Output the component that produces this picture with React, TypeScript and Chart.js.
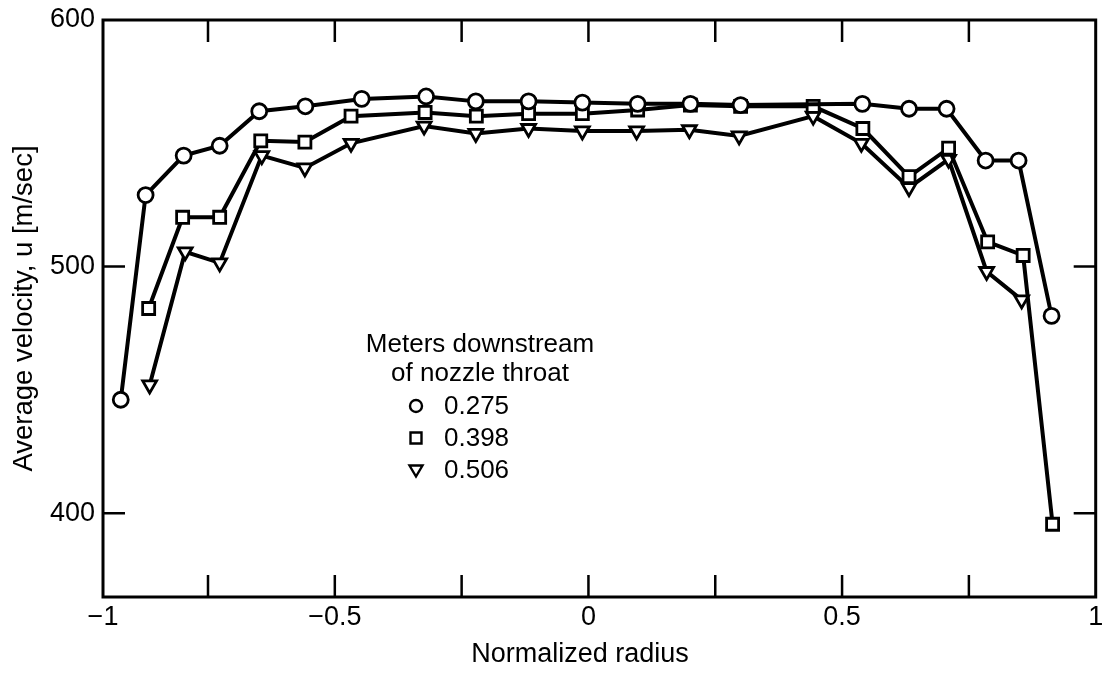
import React, { useEffect, useRef } from 'react';
import { Chart, registerables } from 'chart.js';

Chart.register(...registerables);

// Normalized radius stations and average velocity (m/sec) for each downstream distance
const radius275 = [-0.922, -0.873, -0.798, -0.727, -0.649, -0.558, -0.447, -0.32, -0.222, -0.118, -0.012, 0.097, 0.201, 0.3, 0.54, 0.632, 0.706, 0.783, 0.848, 0.913];
const velocity275 = [446, 529, 545, 549, 563, 565, 568, 569, 567, 567, 566.5, 566, 566, 565.5, 566, 564, 564, 543, 543, 480];

const radius398 = [-0.867, -0.8, -0.727, -0.646, -0.559, -0.468, -0.322, -0.221, -0.118, -0.012, 0.097, 0.201, 0.3, 0.443, 0.541, 0.632, 0.71, 0.787, 0.857, 0.915];
const velocity398 = [483, 520, 520, 551, 550.5, 561, 562.5, 561, 562, 562, 563.5, 565.5, 565, 565, 556, 536.5, 548, 510, 504.5, 395.5];

const radius506 = [-0.865, -0.795, -0.727, -0.644, -0.559, -0.468, -0.324, -0.222, -0.118, -0.012, 0.095, 0.199, 0.297, 0.443, 0.538, 0.632, 0.71, 0.785, 0.854];
const velocity506 = [452, 506, 501.5, 545, 540, 550, 557, 554, 556, 555, 555, 555.5, 553, 561, 550, 532, 543.5, 498, 486.5];

const seriesLabels = ['0.275', '0.398', '0.506'];
const legendTitle = ['Meters downstream', 'of nozzle throat'];
const xTitle = 'Normalized radius';
const yTitle = 'Average velocity, u [m/sec]';

// The left frame of the original plot sits slightly inside r = -1 but carries the "-1" label
const xAxisMin = -0.957;
const xAxisMax = 1;
const xTickValues = [-0.75, -0.5, -0.25, 0, 0.25, 0.5, 0.75, 1];
const xLabeledValues = [-0.5, 0, 0.5, 1];
const xLeftEdgeLabel = '\u22121';
const yTickValues = [400, 500, 600];

const FONT = "'Liberation Sans', Arial, Helvetica, sans-serif";
const TICK_LEN = 22;

const toPoints = (xs: number[], ys: number[]) => xs.map((x, i) => ({ x, y: ys[i] }));

const formatRadius = (v: number) => {
  if (v === 0) return '0';
  return (v < 0 ? '\u2212' : '') + String(Math.abs(v));
};

// Box frame with inward tick marks on all four sides
const framePlugin = {
  id: 'frameTicks',
  beforeDatasetsDraw(chart: any) {
    const { ctx, chartArea, scales } = chart;
    const { left, top, right, bottom } = chartArea;
    const xs = scales.x;
    const ys = scales.y;
    ctx.save();
    ctx.strokeStyle = '#000';
    ctx.lineWidth = 3;
    ctx.strokeRect(left, top, right - left, bottom - top);
    ctx.lineWidth = 2.5;
    ctx.beginPath();
    xs.ticks.forEach((t: any) => {
      if (t.value <= xs.min || t.value >= xs.max) return;
      const px = xs.getPixelForValue(t.value);
      ctx.moveTo(px, bottom);
      ctx.lineTo(px, bottom - TICK_LEN);
      ctx.moveTo(px, top);
      ctx.lineTo(px, top + TICK_LEN);
    });
    ys.ticks.forEach((t: any) => {
      if (t.value <= ys.min || t.value >= ys.max) return;
      const py = ys.getPixelForValue(t.value);
      ctx.moveTo(left, py);
      ctx.lineTo(left + TICK_LEN, py);
      ctx.moveTo(right, py);
      ctx.lineTo(right - TICK_LEN, py);
    });
    ctx.stroke();
    ctx.restore();
  },
};

// Legend block inside the plot plus the x-axis title
const legendPlugin = {
  id: 'innerLegend',
  afterDraw(chart: any) {
    const { ctx, chartArea } = chart;
    const { left, top, bottom } = chartArea;
    ctx.save();
    ctx.fillStyle = '#000';
    ctx.strokeStyle = '#000';
    ctx.textBaseline = 'middle';
    ctx.textAlign = 'center';

    ctx.font = `27px ${FONT}`;
    ctx.fillText(xTitle, left + 477, bottom + 58);

    ctx.font = `26px ${FONT}`;
    const cx = left + 377;
    ctx.fillText(legendTitle[0], cx, top + 325);
    ctx.fillText(legendTitle[1], cx, top + 354);
    ctx.textAlign = 'left';
    const symX = left + 313;
    const textX = left + 341;
    const rowY = [top + 386, top + 418, top + 450];
    ctx.lineWidth = 2.4;
    seriesLabels.forEach((label, i) => {
      const y = rowY[i];
      ctx.fillStyle = '#fff';
      ctx.beginPath();
      if (i === 0) {
        ctx.arc(symX, y, 6, 0, Math.PI * 2);
      } else if (i === 1) {
        ctx.rect(symX - 5.5, y - 5.5, 11, 11);
      } else {
        ctx.moveTo(symX - 6.5, y - 4.5);
        ctx.lineTo(symX + 6.5, y - 4.5);
        ctx.lineTo(symX, y + 6.5);
        ctx.closePath();
      }
      ctx.fill();
      ctx.stroke();
      ctx.fillStyle = '#000';
      ctx.fillText(label, textX, y + 1);
    });
    ctx.restore();
  },
};

export default function App() {
  const canvasRef = useRef<HTMLCanvasElement | null>(null);

  useEffect(() => {
    const canvas = canvasRef.current;
    if (!canvas) return;

    Chart.defaults.font.family = FONT;
    Chart.defaults.color = '#000';

    const common = {
      borderColor: '#000',
      borderWidth: 4,
      pointBorderColor: '#000',
      pointBackgroundColor: '#fff',
      pointBorderWidth: 2.8,
      tension: 0,
      fill: false,
    };

    const chart = new Chart(canvas, {
      type: 'line',
      data: {
        datasets: [
          { ...common, label: seriesLabels[0], data: toPoints(radius275, velocity275), pointStyle: 'circle', pointRadius: 7.5 },
          { ...common, label: seriesLabels[1], data: toPoints(radius398, velocity398), pointStyle: 'rect', pointRadius: 8.5 },
          { ...common, label: seriesLabels[2], data: toPoints(radius506, velocity506), pointStyle: 'triangle', pointRotation: 180, pointRadius: 8 },
        ],
      },
      options: {
        responsive: false,
        animation: false,
        events: [],
        layout: { padding: { left: 0, right: 2, top: 20, bottom: 0 } },
        plugins: {
          legend: { display: false },
          tooltip: { enabled: false },
        },
        scales: {
          x: {
            type: 'linear',
            min: xAxisMin,
            max: xAxisMax,
            grid: { display: false, drawTicks: false },
            border: { display: false },
            afterBuildTicks: (s: any) => {
              s.ticks = [{ value: xAxisMin }, ...xTickValues.map((value) => ({ value }))];
            },
            ticks: {
              padding: 4,
              maxRotation: 0,
              autoSkip: false,
              font: { size: 27 },
              color: '#000',
              callback: (v: any) => {
                const n = Number(v);
                if (n === xAxisMin) return xLeftEdgeLabel;
                return xLabeledValues.includes(n) ? formatRadius(n) : '';
              },
            },
            afterFit: (s: any) => {
              s.height = 78;
              s.paddingLeft = 0;
              s.paddingRight = 0;
            },
          },
          y: {
            type: 'linear',
            min: 366,
            max: 600,
            grid: { display: false, drawTicks: false },
            border: { display: false },
            afterBuildTicks: (s: any) => {
              s.ticks = yTickValues.map((value) => ({ value }));
            },
            ticks: {
              padding: 8,
              font: { size: 27 },
              color: '#000',
              callback: (v: any) => String(v),
            },
            title: {
              display: true,
              text: yTitle,
              font: { size: 27.5 },
              color: '#000',
              padding: { top: 8, bottom: 0 },
            },
            afterFit: (s: any) => {
              s.width = 103;
              s.paddingTop = 0;
              s.paddingBottom = 0;
            },
          },
        },
      },
      plugins: [framePlugin, legendPlugin],
    });

    return () => chart.destroy();
  }, []);

  return (
    <canvas
      ref={canvasRef}
      width={1107}
      height={675}
      style={{ position: 'fixed', left: 0, top: 0, width: 1107, height: 675, display: 'block', background: '#fff' }}
    />
  );
}
